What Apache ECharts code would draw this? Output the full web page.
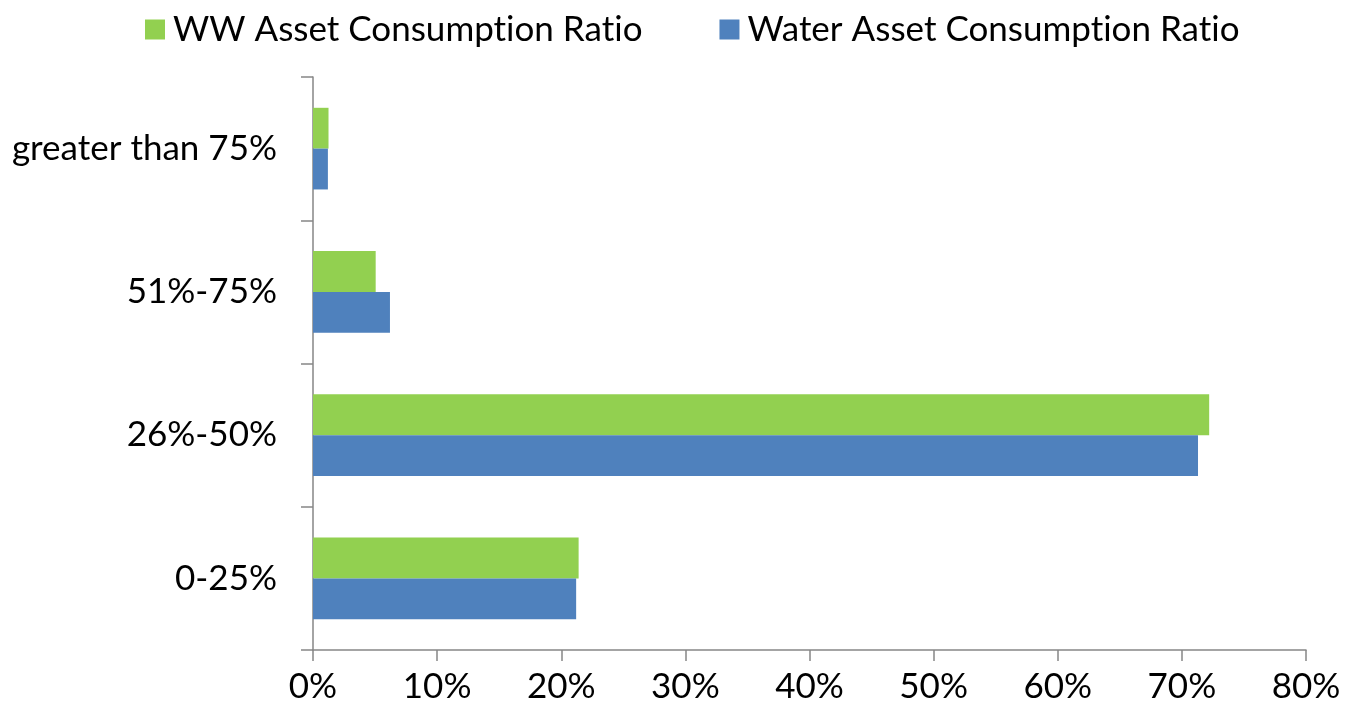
<!DOCTYPE html>
<html>
<head>
<meta charset="utf-8">
<script src="https://cdn.jsdelivr.net/npm/echarts@6/dist/echarts.min.js"></script>
<style>
  html, body { margin: 0; padding: 0; background: #fff; }
  #chart { width: 1357px; height: 715px; }
</style>
</head>
<body>
<div id="chart"></div>
<script>
  // categories, bottom to top
  var categories = ['0-25%', '26%-50%', '51%-75%', 'greater than 75%'];
  var wwRatio = [21.4, 72.2, 5.05, 1.25];
  var waterRatio = [21.2, 71.3, 6.2, 1.2];
  var xTicks = [0, 10, 20, 30, 40, 50, 60, 70, 80];

  var FONT = 'Lato';
  var axisGrey = '#868686';

  var chart = echarts.init(document.getElementById('chart'));

  chart.setOption({
    animation: false,
    textStyle: { fontFamily: FONT },
    legend: {
      data: ['WW Asset Consumption Ratio', 'Water Asset Consumption Ratio'],
      top: 7,
      left: 140,
      itemWidth: 20,
      itemHeight: 20,
      itemGap: 77,
      icon: 'rect',
      // break the Lato "ti" ligature so the text reads like the original
      formatter: function(name) { return name.replace(/ti/g, 't\u200Ci'); },
      textStyle: { fontSize: 35, color: '#000', fontFamily: FONT, padding: [0, 0, 0, 3] }
    },
    grid: { left: 313, right: 51, top: 77, bottom: 65, containLabel: false },
    xAxis: {
      type: 'value',
      min: xTicks[0],
      max: xTicks[xTicks.length - 1],
      interval: 10,
      splitLine: { show: false },
      axisLine: { show: true, lineStyle: { color: axisGrey, width: 1.5 } },
      axisTick: { show: true, length: 11, lineStyle: { color: axisGrey, width: 1.5 } },
      axisLabel: { formatter: '{value}%', fontSize: 35, color: '#000', margin: 19 }
    },
    yAxis: {
      type: 'category',
      data: categories,
      axisLine: { show: true, lineStyle: { color: axisGrey, width: 1.5 } },
      axisTick: { show: true, length: 12, lineStyle: { color: axisGrey, width: 1.5 } },
      axisLabel: { fontSize: 35, color: '#000', margin: 36 }
    },
    series: [
      {
        name: 'WW Asset Consumption Ratio',
        type: 'bar',
        data: wwRatio,
        itemStyle: { color: '#92D050' },
        barGap: '0%',
        barCategoryGap: '43%'
      },
      {
        name: 'Water Asset Consumption Ratio',
        type: 'bar',
        data: waterRatio,
        itemStyle: { color: '#4F81BD' },
        barGap: '0%',
        barCategoryGap: '43%'
      }
    ]
  });

  window.addEventListener('resize', function() { chart.resize(); });
</script>
</body>
</html>
